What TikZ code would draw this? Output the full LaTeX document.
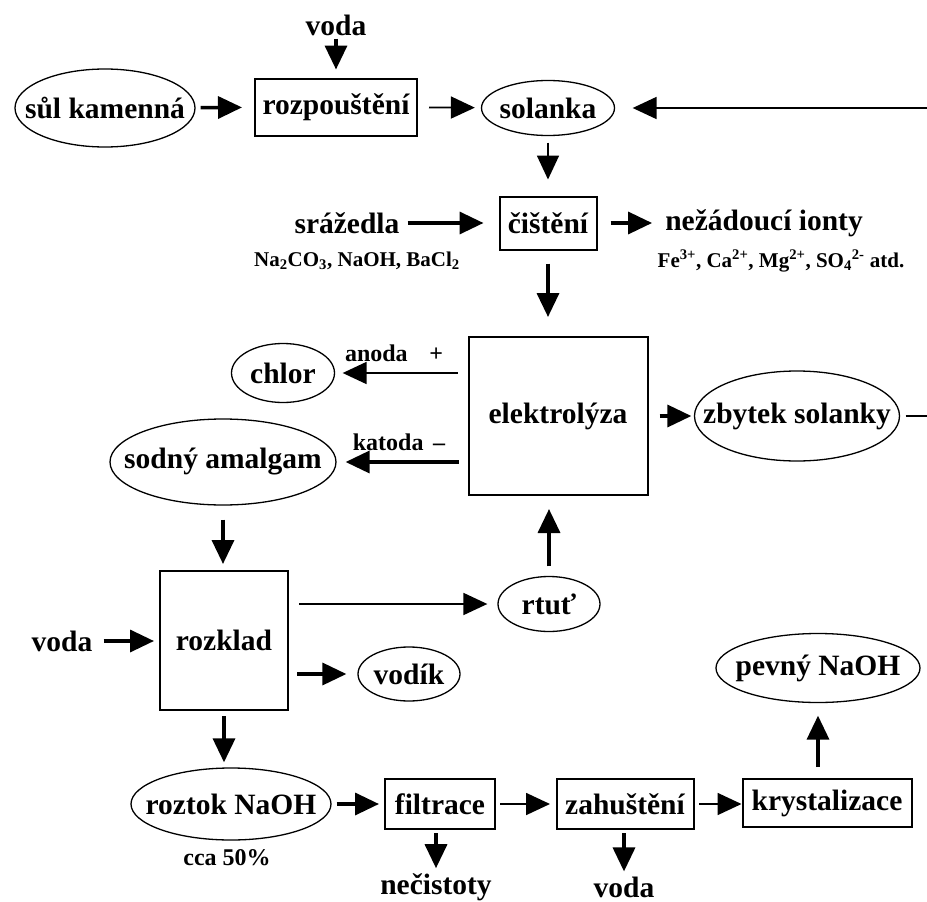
\documentclass[tikz,border=0pt]{standalone}
\usepackage{fontspec}
\setmainfont{Liberation Serif}
\usetikzlibrary{arrows.meta, shapes.geometric, calc}
\newcommand{\bigfont}{\fontsize{29.5}{34}\selectfont\bfseries}
\newcommand{\midfont}{\fontsize{24}{28}\selectfont\bfseries}
\newcommand{\smallfont}{\fontsize{21}{25}\selectfont\bfseries}
\newcommand{\eltxt}[1]{\makebox[0pt]{#1}}
\tikzset{
  bxP/.style n args={2}{draw, line width=2pt, rectangle, inner sep=2pt,
              minimum width=#1, minimum height=#2, font=\bigfont},
  elP/.style n args={2}{draw, line width=1.3pt, ellipse, inner sep=0pt,
              minimum width=#1, minimum height=#2, font=\bigfont},
  lbl/.style={inner sep=1pt, font=\bigfont},
  arrT/.style={-{Triangle[length=24pt,width=22pt]}, line width=3.5pt},
  arrN/.style={-{Triangle[length=24pt,width=22pt]}, line width=1.8pt},
}

\begin{document}
\begin{tikzpicture}[x=1pt, y=-1pt]
      \useasboundingbox (0,0) rectangle (927,902);
      \clip (0,0) rectangle (927,902);

      % ── dissolving the rock salt ─────────────────────────────
      \node[lbl] (vodaA) at (336,25) {voda};
      \node[elP={180pt}{78pt}] (sul) at (105,108) {\eltxt{sůl kamenná}};
      \node[bxP={162pt}{57pt}] (rozp) at (336,107) {rozpouštění};
      \node[elP={133pt}{55pt}] (solanka) at (548,108) {\eltxt{solanka}};

      \draw[arrT, shorten <=2pt, shorten >=8pt] (vodaA) -- (rozp);
      \draw[arrT, shorten <=5pt, shorten >=12pt] (sul) -- (rozp);
      \draw[arrN, shorten <=11pt, shorten >=6pt] (rozp) -- (solanka);

      % ── purification ─────────────────────────────────────────
      \node[lbl] (sraz) at (347,223) {srážedla};
      \node[lbl, font=\smallfont] (srazF) at (357,261)
        {Na\textsubscript{2}CO\textsubscript{3}, NaOH, BaCl\textsubscript{2}};
      \node[bxP={97pt}{53pt}] (cist) at (548,223) {čištění};
      \node[lbl] (nez) at (764,223) {nežádoucí ionty};
      \node[lbl, font=\smallfont] (nezF) at (781,261)
        {Fe\textsuperscript{3+}, Ca\textsuperscript{2+}, Mg\textsuperscript{2+}, SO\textsubscript{4}\textsuperscript{2-} atd.};

      \draw[arrN, shorten <=6.5pt, shorten >=16pt] (solanka) -- (cist);
      \draw[arrT, shorten <=7pt, shorten >=15pt] (sraz) -- (cist);
      \draw[arrT, shorten <=13pt, shorten >=12pt] (cist) -- (nez);

      % ── electrolysis ─────────────────────────────────────────
      \node[bxP={179pt}{158pt}] (elek) at (558,416) {elektrolýza};
      \node[elP={103pt}{59pt}] (chlor) at (283,373) {\eltxt{chlor}};
      \node[elP={226pt}{86pt}] (amal) at (223,462) {\eltxt{sodný amalgam}};
      \node[elP={205pt}{90pt}] (zbyt) at (797,416) {\eltxt{zbytek solanky}};
      \node[lbl, font=\midfont] (anoda) at (394,353) {anoda\hspace{0.9em}+};
      \node[lbl, font=\midfont] (katoda) at (399,442) {katoda\hspace{0.4em}–};

      \draw[arrT, shorten <=13pt, shorten >=19pt] (cist) -- (cist |- elek.north);
      \draw[arrN, shorten <=10pt, shorten >=7.5pt] (chlor -| elek.west) -- (chlor);
      \draw[arrT, shorten <=9pt, shorten >=9pt] (amal -| elek.west) -- (amal);
      \draw[arrT, shorten <=11pt, shorten >=2.5pt] (elek) -- (zbyt);
      % brine going back to the start
      \draw[arrN, shorten <=5.5pt, shorten >=17.5pt]
        (zbyt.east) -- ++(60,0) |- (solanka.east);

      % ── decomposition of the amalgam ─────────────────────────
      \node[bxP={128pt}{139pt}] (rozk) at (224,640) {rozklad};
      \node[lbl] (vodaB) at (62,641) {voda};
      \node[elP={102pt}{55pt}] (rtut) at (549,604) {\eltxt{rtuť}};
      \node[elP={102pt}{54pt}] (vodik) at (409,674) {\eltxt{vodík}};

      \draw[arrT, shorten <=14pt, shorten >=5.5pt] (amal) -- (amal |- rozk.north);
      \draw[arrT, shorten <=10pt, shorten >=5pt] (vodaB) -- (vodaB -| rozk.west);
      \draw[arrN, shorten <=10pt, shorten >=10pt] (rtut -| rozk.east) -- (rtut);
      \draw[arrT, shorten <=8pt, shorten >=11pt] (vodik -| rozk.east) -- (vodik);
      \draw[arrT, shorten <=9.5pt, shorten >=13pt] (rtut) -- (rtut |- elek.south);

      % ── NaOH line ────────────────────────────────────────────
      \node[elP={200pt}{72pt}] (roztok) at (231,804) {\eltxt{roztok NaOH}};
      \node[lbl, font=\midfont] (cca) at (227,858) {cca 50\%};
      \node[bxP={110pt}{50pt}] (filt) at (440,804) {filtrace};
      \node[bxP={137pt}{50pt}] (zahu) at (625,804) {zahuštění};
      \node[bxP={169pt}{48pt}] (krys) at (827,803) {krystalizace};
      \node[elP={204pt}{69pt}] (pevny) at (818,668) {\eltxt{pevný NaOH}};
      \node[lbl] (necist) at (436,887) {nečistoty};
      \node[lbl] (vodaC) at (624,887) {voda};

      \draw[arrT, shorten <=5.5pt, shorten >=5pt] (rozk) -- (rozk |- roztok.north);
      \draw[arrT, shorten <=5pt, shorten >=5pt] (roztok) -- (filt);
      \draw[arrN, shorten <=4pt, shorten >=5.5pt] (filt) -- (zahu);
      \draw[arrN, shorten <=4.5pt, shorten >=0pt] (zahu.east) -- (zahu.east -| krys.west);
      \draw[arrT, shorten <=3pt, shorten >=4pt] (necist |- filt.south) -- (necist);
      \draw[arrT, shorten <=3pt, shorten >=4pt] (vodaC |- zahu.south) -- (vodaC);
      \draw[arrT, shorten <=11pt, shorten >=12.5pt] (pevny |- krys.north) -- (pevny);
    \end{tikzpicture}
\end{document}
